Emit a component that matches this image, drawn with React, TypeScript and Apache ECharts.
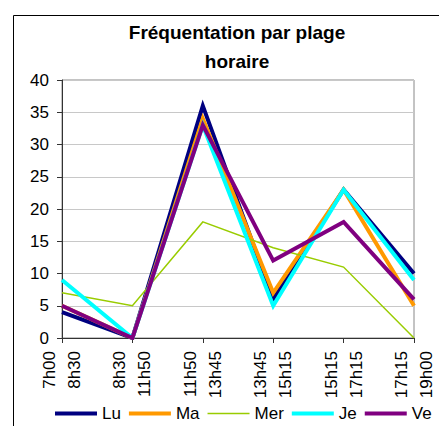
import React, { useEffect, useRef } from "react";
import * as echarts from "echarts";

const categories = [
  "7h00\n8h30",
  "8h30\n11h50",
  "11h50\n13h45",
  "13h45\n15h15",
  "15h15\n17h15",
  "17h15\n19h00",
];
const lu = [4, 0, 36, 6, 23, 10];
const ma = [5, 0, 34, 7, 23, 5];
const mer = [7, 5, 18, 14, 11, 0];
const je = [9, 0, 33, 5, 23, 9];
const ve = [5, 0, 33, 12, 18, 6];
const yTicks = { min: 0, max: 40, interval: 5 };
const title = "Fréquentation par plage\nhoraire";

const FONT = "'Liberation Sans', Arial, sans-serif";
const thick = "path://M0,0 L42,0 L42,4 L0,4 Z";
const thin = "path://M0,0 L42,0 L42,1.5 L0,1.5 Z";

export default function App() {
  const ref = useRef<HTMLDivElement>(null);
  useEffect(() => {
    if (!ref.current) return;
    const chart = echarts.init(ref.current, null, { renderer: "svg" });
    const mk = (name: string, data: number[], color: string, width: number) => ({
      name,
      type: "line",
      data,
      symbol: "none",
      lineStyle: { color, width, join: "miter" },
      itemStyle: { color },
    });
    chart.setOption({
      animation: false,
      backgroundColor: "#fff",
      textStyle: { fontFamily: FONT },
      title: {
        text: title,
        left: 232,
        top: 13,
        textAlign: "center",
        textStyle: {
          fontFamily: FONT,
          fontSize: 19,
          fontWeight: "bold",
          color: "#000",
          lineHeight: 29,
        },
      },
      graphic: [
        {
          type: "rect",
          shape: { x: 13.5, y: 15.5, width: 600, height: 600 },
          style: { fill: "none", stroke: "#000", lineWidth: 1 },
          z: -10,
          silent: true,
        },
      ],
      legend: {
        left: 55,
        top: 405,
        width: 384,
        padding: 0,
        itemWidth: 42,
        itemHeight: 14,
        itemGap: 8,
        textStyle: { fontFamily: FONT, fontSize: 17, color: "#000" },
        data: [
          { name: "Lu", icon: thick },
          { name: "Ma", icon: thick },
          { name: "Mer", icon: thin },
          { name: "Je", icon: thick },
          { name: "Ve", icon: thick },
        ],
      },
      grid: {
        left: 62,
        top: 80,
        right: 19,
        bottom: 88,
        show: true,
        borderColor: "#888",
        borderWidth: 1,
        backgroundColor: "transparent",
      },
      xAxis: {
        type: "category",
        data: categories,
        boundaryGap: false,
        axisLine: { show: true, lineStyle: { color: "#333", width: 1 } },
        axisTick: { show: true, length: 5, lineStyle: { color: "#333" } },
        axisLabel: {
          rotate: 90,
          fontFamily: FONT,
          fontSize: 17,
          lineHeight: 25,
          color: "#000",
          margin: 13,
        },
        splitLine: { show: false },
      },
      yAxis: {
        type: "value",
        min: yTicks.min,
        max: yTicks.max,
        interval: yTicks.interval,
        axisLine: { show: true, lineStyle: { color: "#333", width: 1 } },
        axisTick: { show: true, length: 5, lineStyle: { color: "#333" } },
        axisLabel: {
          fontFamily: FONT,
          fontSize: 17,
          color: "#000",
          margin: 13,
        },
        splitLine: { show: true, lineStyle: { color: "#c8c8c8", width: 1 } },
      },
      series: [
        mk("Lu", lu, "#000080", 4),
        mk("Ma", ma, "#FF9900", 4),
        mk("Mer", mer, "#99CC00", 1.5),
        mk("Je", je, "#00FFFF", 4),
        mk("Ve", ve, "#800080", 4),
      ],
    });
    return () => chart.dispose();
  }, []);
  return (
    <div
      ref={ref}
      style={{ position: "absolute", left: 0, top: 0, width: 439, height: 426 }}
    />
  );
}
